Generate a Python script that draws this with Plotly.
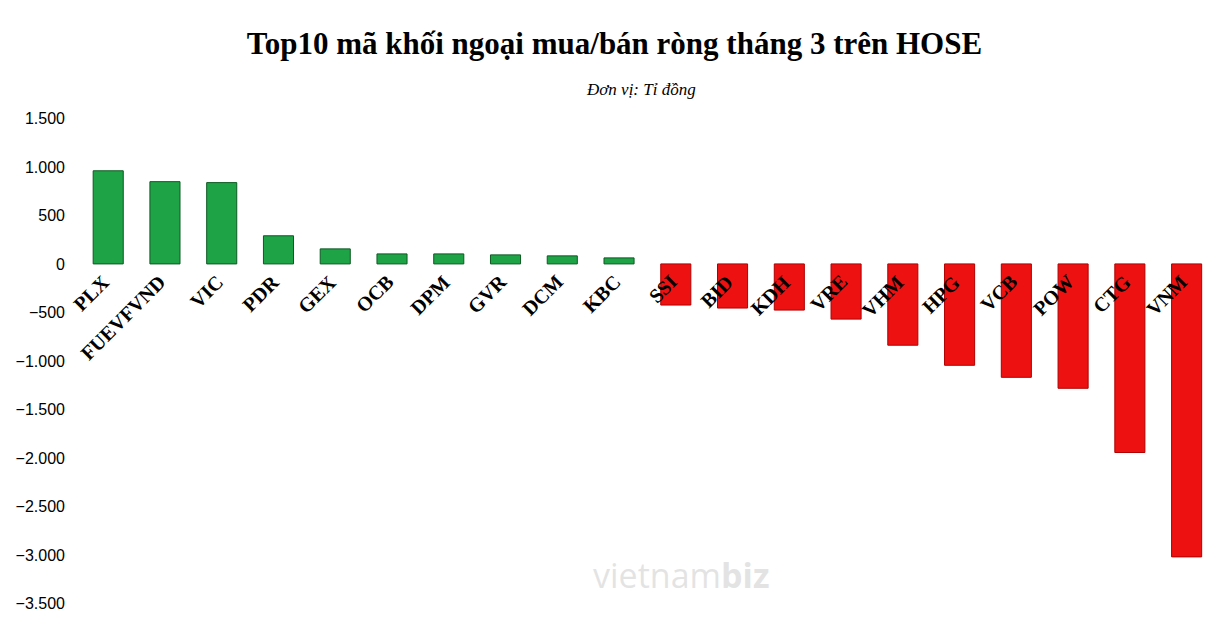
import plotly.graph_objects as go

codes = ["PLX", "FUEVFVND", "VIC", "PDR", "GEX", "OCB", "DPM", "GVR", "DCM", "KBC",
         "SSI", "BID", "KDH", "VRE", "VHM", "HPG", "VCB", "POW", "CTG", "VNM"]
values = [960, 848, 838, 290, 155, 103, 103, 93, 83, 62,
          -424, -455, -476, -569, -838, -1045, -1169, -1282, -1944, -3020]

colors = ["#1fa347" if v > 0 else "#ee1111" for v in values]
lines = ["#0d5a22" if v > 0 else "#b00000" for v in values]

fig = go.Figure(go.Bar(
    x=codes, y=values,
    marker=dict(color=colors, line=dict(color=lines, width=1)),
    width=0.53,
))

# category labels rotated at the zero line
for c in codes:
    fig.add_annotation(x=c, y=0, text="<b>%s</b>" % c, showarrow=False,
                       textangle=-45, xanchor="right", yanchor="top",
                       xshift=8, yshift=-4,
                       font=dict(family="Liberation Serif", size=20, color="black"))

fig.add_annotation(x=0.5, y=1.018, xref="paper", yref="paper", showarrow=False,
                   yanchor="middle",
                   text="<i>Đơn vị: Tỉ đồng</i>",
                   font=dict(family="Liberation Serif", size=17, color="black"))
fig.add_annotation(x=0.535, y=0.035, xref="paper", yref="paper", showarrow=False,
                   text="vietnam<b>biz</b>",
                   font=dict(family="Open Sans", size=34, color="rgba(200,200,200,0.5)"))

fig.update_layout(
    width=1213, height=632,
    paper_bgcolor="white", plot_bgcolor="white",
    separators=",.",
    showlegend=False,
    margin=dict(l=58, r=6, t=91, b=22),
    title=dict(text="<b>Top10 mã khối ngoại mua/bán ròng tháng 3 trên HOSE</b>",
               x=0.5, y=0.945, xanchor="center", yanchor="middle",
               font=dict(family="Liberation Serif", size=31, color="black")),
    xaxis=dict(showticklabels=False, showgrid=False, zeroline=False, showline=False),
    yaxis=dict(range=[-3650, 1700], tickvals=list(range(-3500, 1501, 500)),
               tickformat=",d", showgrid=False, zeroline=False, showline=False,
               tickfont=dict(family="Liberation Sans", size=16, color="black")),
)

fig.write_html("out.html")
